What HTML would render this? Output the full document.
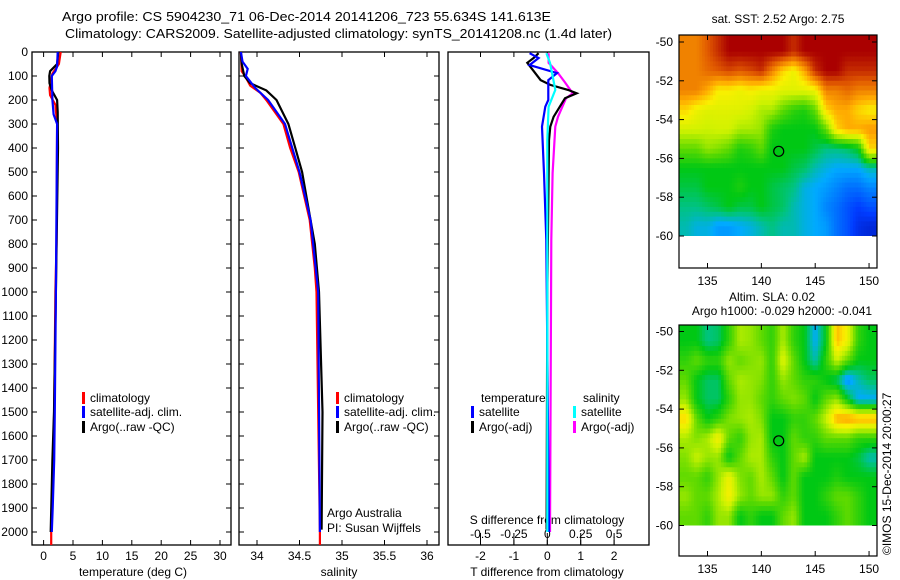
<!DOCTYPE html>
<html><head><meta charset="utf-8">
<style>
html,body{margin:0;padding:0;background:#fff;}
svg{display:block;font-family:"Liberation Sans",sans-serif;}
text{font-size:12px;fill:#000;}
</style></head>
<body>
<svg id="c" width="900" height="580" viewBox="0 0 900 580" xmlns="http://www.w3.org/2000/svg">
<text x="62" y="21" textLength="489" lengthAdjust="spacingAndGlyphs" style="font-size:13px">Argo profile: CS 5904230_71 06-Dec-2014 20141206_723 55.634S 141.613E</text>
<text x="65" y="38" textLength="547" lengthAdjust="spacingAndGlyphs" style="font-size:13px">Climatology: CARS2009. Satellite-adjusted climatology: synTS_20141208.nc (1.4d later)</text>
<g id="g"></g>
</svg>
<script>
// ---- profile data (depth in dbar, values) ----
const depthTicks=[0,100,200,300,400,500,600,700,800,900,1000,1100,1200,1300,1400,1500,1600,1700,1800,1900,2000];
const tempTicks=[0,5,10,15,20,25,30];
const salTicks=[34,34.5,35,35.5,36];
const tdiffTicks=[-2,-1,0,1,2];
const sdiffTicks=[-0.5,-0.25,0,0.25,0.5];
const tempClimDepth=[0,50,90,150,180,220,300,800,1000,1500,2000,2055];
const tempClim=[2.9,2.6,1.5,1.0,1.1,2.0,2.3,2.2,2.0,1.8,1.3,1.3];
const tempSatDepth=[0,60,80,100,200,260,300,1000,1500,1700,1900,2000];
const tempSat=[2.4,2.3,2.0,1.4,1.5,1.7,2.3,2.1,1.9,1.8,1.55,1.4];
const tempArgoDepth=[0,50,80,100,130,160,200,250,400,1000,1500,1700,2000];
const tempArgo=[2.5,2.3,1.1,0.97,1.0,1.4,2.3,2.4,2.45,2.1,1.77,1.5,1.2];
const salClimDepth=[0,80,100,140,170,200,300,400,500,700,900,1000,2000,2055];
const salClim=[33.81,33.82,33.86,33.92,34.04,34.11,34.31,34.39,34.49,34.62,34.68,34.70,34.74,34.74];
const salSatDepth=[0,40,70,100,150,200,300,500,700,1000,2000];
const salSat=[33.81,33.83,33.89,33.87,33.98,34.13,34.33,34.50,34.63,34.72,34.74];
const salArgoDepth=[0,50,100,130,160,200,300,400,500,600,800,1000,1500,1990];
const salArgo=[33.81,33.82,33.85,33.92,34.11,34.23,34.37,34.45,34.53,34.58,34.68,34.73,34.77,34.76];
const dTSatDepth=[5,25,54,88,117,200,228,311,505,783,2000];
const dTSat=[-0.53,-0.26,-0.53,0.29,0.03,0.03,-0.06,-0.16,-0.1,-0.03,0.05];
const dTArgoDepth=[5,25,45,117,137,158,172,193,270,311,367,1000,1990];
const dTArgo=[-0.26,-0.41,-0.6,-0.2,0.09,0.62,0.88,0.53,0.19,0.09,0.05,0.0,-0.02];
const dSSatDepth=[5,45,100,158,228,367,2000];
const dSSat=[-0.007,0.02,0.04,0.06,0.01,0.0,0.0];
const dSArgoDepth=[5,45,88,125,172,193,270,311,505,783,2000];
const dSArgo=[0.01,0.01,0.08,0.13,0.19,0.14,0.08,0.06,0.04,0.03,0.02];
// ---- map data ----
const mapLons=[133,134,135,136,137,138,139,140,141,142,143,144,145,146,147,148,149,150];
const mapLats=[-50.5,-51.5,-52.5,-53.5,-54.5,-55.5,-56.5,-57.5,-58.5,-59.5];
const lonTicks=[135,140,145,150];
const latTicks=[-50,-52,-54,-56,-58,-60];
const sstGrid=[
[.85,.85,.90,.95,1,1,1,1,1,1,.95,1,1,1,1,1,1,1],
[.85,.85,.88,.90,.92,.90,.92,.95,.85,.75,.70,.80,.95,1,1,.95,.95,.95],
[.85,.85,.80,.72,.72,.70,.72,.70,.70,.68,.68,.68,.70,.85,.85,.88,.85,.85],
[.75,.70,.68,.68,.68,.68,.66,.62,.62,.55,.50,.48,.55,.75,.80,.80,.75,.72],
[.66,.66,.65,.66,.66,.62,.62,.60,.48,.45,.45,.45,.45,.55,.75,.80,.80,.82],
[.55,.55,.60,.58,.55,.48,.50,.55,.45,.45,.45,.45,.42,.38,.38,.40,.45,.75],
[.45,.45,.45,.45,.45,.45,.45,.45,.45,.45,.42,.40,.35,.32,.30,.30,.30,.35],
[.42,.42,.45,.45,.45,.48,.45,.45,.42,.40,.38,.32,.30,.28,.25,.22,.22,.25],
[.38,.38,.40,.42,.45,.42,.42,.45,.42,.40,.35,.32,.30,.25,.22,.18,.15,.18],
[.35,.32,.32,.28,.28,.30,.32,.35,.38,.35,.35,.32,.30,.28,.22,.18,.12,.10]];
const slaGrid=[
[.45,.45,.38,.40,.50,.62,.60,.55,.50,.62,.50,.45,.30,.45,.78,.70,.50,.45],
[.50,.55,.50,.50,.60,.55,.58,.60,.50,.68,.55,.45,.35,.50,.65,.55,.45,.45],
[.55,.45,.40,.40,.55,.62,.60,.58,.50,.60,.55,.50,.50,.45,.40,.25,.35,.40],
[.60,.45,.40,.40,.50,.60,.60,.55,.50,.55,.58,.55,.45,.55,.60,.45,.30,.30],
[.75,.55,.45,.50,.58,.60,.62,.58,.45,.45,.50,.50,.55,.65,.80,.82,.80,.80],
[.62,.58,.62,.72,.55,.50,.60,.62,.45,.45,.55,.50,.50,.55,.55,.55,.50,.50],
[.58,.65,.60,.60,.45,.55,.62,.62,.50,.45,.55,.62,.45,.45,.45,.45,.42,.35],
[.55,.55,.50,.60,.70,.58,.55,.62,.55,.45,.55,.45,.45,.45,.48,.45,.45,.45],
[.60,.55,.55,.62,.72,.60,.55,.60,.60,.50,.55,.45,.45,.50,.55,.55,.50,.45],
[.55,.55,.50,.60,.60,.45,.50,.45,.45,.55,.60,.45,.45,.45,.50,.55,.50,.45]];
const floatLon=141.613, floatLat=-55.634;

const NS="http://www.w3.org/2000/svg";
const G=document.getElementById('g');
function mk(tag,attrs,parent){const e=document.createElementNS(NS,tag);for(const k in attrs)e.setAttribute(k,attrs[k]);(parent||G).appendChild(e);return e;}
function txt(x,y,s,anchor,parent){const t=mk('text',{x:x,y:y,'text-anchor':anchor||'start'},parent);t.textContent=s;return t;}

const TOP=52, BOT=545;
const yD=d=>52+d*0.24;
const panels=[
 {l:32,r:231,name:'temperature-panel'},
 {l:239,r:439,name:'salinity-panel'},
 {l:448,r:649,name:'difference-panel'}];
const xT=v=>43.6+v*5.88;
const xS=v=>257+(v-34)*85;
const xdT=v=>547.3+v*33.4;
const xdS=v=>547.3+v*133.6;

panels.forEach((p,i)=>{
 const r=mk('rect',{x:p.l,y:TOP,width:p.r-p.l,height:BOT-TOP,fill:'none',stroke:'#000','stroke-width':1.3});
 
 
 if(i<2){depthTicks.forEach(d=>{const y=yD(d);
   mk('line',{x1:p.l,x2:p.l+5,y1:y,y2:y,stroke:'#000'});
   mk('line',{x1:p.r-5,x2:p.r,y1:y,y2:y,stroke:'#000'});});}
});
depthTicks.forEach(d=>{const t=txt(28,yD(d)+4,String(d),'end');
 
 });

function xticks(arr,fx,lbl,p,top){arr.forEach(v=>{const x=fx(v);
 mk('line',{x1:x,x2:x,y1:BOT-5,y2:BOT,stroke:'#000'});
 if(top)mk('line',{x1:x,x2:x,y1:TOP,y2:TOP+5,stroke:'#000'});
 const t=txt(x,BOT+15,lbl(v),'middle');
 
 });}
xticks(tempTicks,xT,String,panels[0],true);
xticks(salTicks,xS,String,panels[1],true);
xticks(tdiffTicks,xdT,String,panels[2],true);
sdiffTicks.forEach(v=>{const x=xdS(v);
 mk('line',{x1:x,x2:x,y1:BOT-12,y2:BOT,stroke:'#000'});
 const t=txt(x,538,String(v),'middle');
 
 });

function axTitle(x,y,s,name){const t=txt(x,y,s,'middle');}
axTitle(133,576,'temperature (deg C)','temperature-axis-title');
axTitle(339,576,'salinity','salinity-axis-title');
axTitle(547,576,'T difference from climatology','t-diff-axis-title');
axTitle(547,524,'S difference from climatology','s-diff-axis-title');

function series(ds,vs,fx,col,name,clipId){
 const pts=ds.map((d,i)=>fx(vs[i]).toFixed(1)+','+yD(d).toFixed(1)).join(' ');
 const pl=mk('polyline',{points:pts,fill:'none',stroke:col,'stroke-width':2.2,'clip-path':'url(#'+clipId+')'});
 
 }
const defs=mk('defs',{});
panels.forEach((p,i)=>{const cp=mk('clipPath',{id:'pc'+i},defs);mk('rect',{x:p.l,y:TOP,width:p.r-p.l,height:BOT-TOP},cp);});
series(tempClimDepth,tempClim,xT,'#f00','temp-climatology-line','pc0');
series(tempArgoDepth,tempArgo,xT,'#000','temp-argo-line','pc0');
series(tempSatDepth,tempSat,xT,'#00f','temp-satellite-line','pc0');
series(salClimDepth,salClim,xS,'#f00','sal-climatology-line','pc1');
series(salArgoDepth,salArgo,xS,'#000','sal-argo-line','pc1');
series(salSatDepth,salSat,xS,'#00f','sal-satellite-line','pc1');
series(dSArgoDepth,dSArgo,xdS,'#f0f','s-diff-argo-line','pc2');
series(dTArgoDepth,dTArgo,xdT,'#000','t-diff-argo-line','pc2');
series(dTSatDepth,dTSat,xdT,'#00f','t-diff-satellite-line','pc2');
series(dSSatDepth,dSSat,xdS,'#0ff','s-diff-satellite-line','pc2');

function legItem(x,y,col,s,name){mk('rect',{x:x,y:y-10,width:3,height:12,fill:col});
 const t=txt(x+8,y,s);}
[[82],[336]].forEach(([x],k)=>{
 legItem(x,402,'#f00','climatology','legend-climatology');
 legItem(x,416,'#00f','satellite-adj. clim.','legend-satellite-adj');
 legItem(x,431,'#000','Argo(..raw -QC)','legend-argo');});
let t0=txt(481,402,'temperature');
t0=txt(583,402,'salinity');
legItem(471,416,'#00f','satellite','legend-t-satellite');
legItem(471,431,'#000','Argo(-adj)','legend-t-argo');
legItem(573,416,'#0ff','satellite','legend-s-satellite');
legItem(573,431,'#f0f','Argo(-adj)','legend-s-argo');
t0=txt(327,517,'Argo Australia');
t0=txt(327,532,'PI: Susan Wijffels');

const cstops=[[0,[0,0,140]],[0.15,[0,60,255]],[0.3,[0,170,255]],[0.38,[0,195,130]],[0.45,[0,200,20]],[0.55,[95,218,0]],[0.65,[205,242,0]],[0.72,[250,240,0]],[0.8,[255,170,0]],[0.9,[225,90,0]],[1,[170,0,0]]];
function cmap(v){for(let i=1;i<cstops.length;i++){if(v<=cstops[i][0]){const a=cstops[i-1],b=cstops[i];const f=(v-a[0])/(b[0]-a[0]);
 const c=a[1].map((q,j)=>Math.round(q+(b[1][j]-q)*f));return 'rgb('+c+')';}}return 'rgb(170,0,0)';}

function sample(grid,lon,lat){
 const nc=mapLons.length,nr=mapLats.length;
 let fc=(lon-mapLons[0])/(mapLons[1]-mapLons[0]); let fr=(lat-mapLats[0])/(mapLats[1]-mapLats[0]);
 fc=Math.max(0,Math.min(nc-1,fc)); fr=Math.max(0,Math.min(nr-1,fr));
 const c0=Math.min(nc-2,Math.floor(fc)),r0=Math.min(nr-2,Math.floor(fr));
 const u=fc-c0,w=fr-r0;
 return grid[r0][c0]*(1-u)*(1-w)+grid[r0][c0+1]*u*(1-w)+grid[r0+1][c0]*(1-u)*w+grid[r0+1][c0+1]*u*w;}

const xL=lon=>707.5+(lon-135)*10.77;
function drawMap(grid,y0,top,bot,name,idx){
 const yL=lat=>y0+(-50-lat)*19.4;
 const cp=mk('clipPath',{id:'mc'+idx},defs);mk('rect',{x:679,y:top,width:198,height:yL(-60)-top},cp);
 const g=mk('g',{'clip-path':'url(#mc'+idx+')'});
 
 
 const step=0.25;
 for(let lat=-49.5;lat>-60;lat-=step){
  for(let lon=132;lon<151;lon+=step){
   const v=sample(grid,lon+step/2,lat-step/2);
   const x1=xL(lon),x2=xL(lon+step),y1=yL(lat),y2=yL(lat-step);
   const r=mk('rect',{x:x1.toFixed(1),y:y1.toFixed(1),width:(x2-x1+0.5).toFixed(1),height:(y2-y1+0.5).toFixed(1),fill:cmap(v)},g);
   
   
  }}
 const b=mk('rect',{x:679,y:top,width:198,height:bot-top,fill:'none',stroke:'#000','stroke-width':1.2});
 
 
 latTicks.forEach(l=>{const y=yL(l);mk('line',{x1:679,x2:684,y1:y,y2:y,stroke:'#000'});mk('line',{x1:872,x2:877,y1:y,y2:y,stroke:'#000'});
  const t=txt(673,y+4,String(l),'end');});
 lonTicks.forEach(l=>{const x=xL(l);mk('line',{x1:x,x2:x,y1:bot-5,y2:bot,stroke:'#000'});mk('line',{x1:x,x2:x,y1:top,y2:top+5,stroke:'#000'});
  const t=txt(x,bot+17,String(l),'middle');});
 const c=mk('circle',{cx:xL(floatLon),cy:yL(floatLat),r:5,fill:'none',stroke:'#000','stroke-width':1.2});
 
 
}
drawMap(sstGrid,42,35,268,'sst-map',0);
drawMap(slaGrid,331.5,325,556,'sla-map',1);
t0=txt(778,23,'sat. SST: 2.52 Argo: 2.75','middle');
t0=txt(772,301,'Altim. SLA: 0.02','middle');
t0=txt(782,315,'Argo h1000: -0.029 h2000: -0.041','middle');
t0=txt(0,0,'©IMOS 15-Dec-2014 20:00:27','start');t0.setAttribute('transform','translate(891,555) rotate(-90)');


</script>
</body></html>
